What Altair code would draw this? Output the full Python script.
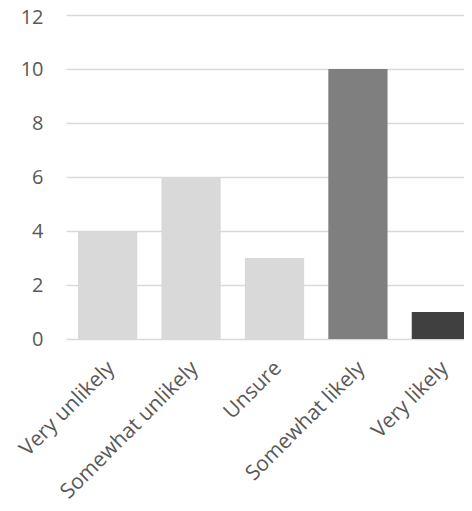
import altair as alt
import pandas as pd

categories = ["Very unlikely", "Somewhat unlikely", "Unsure", "Somewhat likely", "Very likely"]
values = [4, 6, 3, 10, 1]
colors = ["#d9d9d9", "#d9d9d9", "#d9d9d9", "#7f7f7f", "#404040"]

df = pd.DataFrame({"category": categories, "value": values, "color": colors})

FONT = "Open Sans"

chart = alt.Chart(df).mark_bar(clip=True).encode(
    x=alt.X("category:N", sort=categories, title=None,
            scale=alt.Scale(range=[0, 417], paddingInner=0.29, paddingOuter=0.144),
            axis=alt.Axis(labelAngle=-45, labelAlign="right", labelBaseline="top",
                          labelFontSize=21, labelColor="#595959", labelFont=FONT,
                          ticks=False, domain=False, labelPadding=18, labelOffset=-4,
                          labelLimit=400, labelOverlap=False, labelBound=False,
                          labelFlush=False)),
    y=alt.Y("value:Q", title=None,
            scale=alt.Scale(domain=[0, 12]),
            axis=alt.Axis(values=[0, 2, 4, 6, 8, 10, 12], ticks=False, domain=False,
                          labelFontSize=20, labelColor="#595959", labelFont=FONT,
                          labelOffset=alt.ExprRef("datum.value == 12 ? 2 : 0"),
                          labelPadding=23, gridColor="#d9d9d9", gridWidth=1.5)),
    color=alt.Color("color:N", scale=None),
).properties(
    width=398, height=324,
    autosize=alt.AutoSizeParams(type="none"),
    padding={"left": 58, "top": 7, "right": 0, "bottom": 164},
).configure_view(stroke=None)

chart.save("out.html", embed_options={"renderer": "svg", "actions": False})
